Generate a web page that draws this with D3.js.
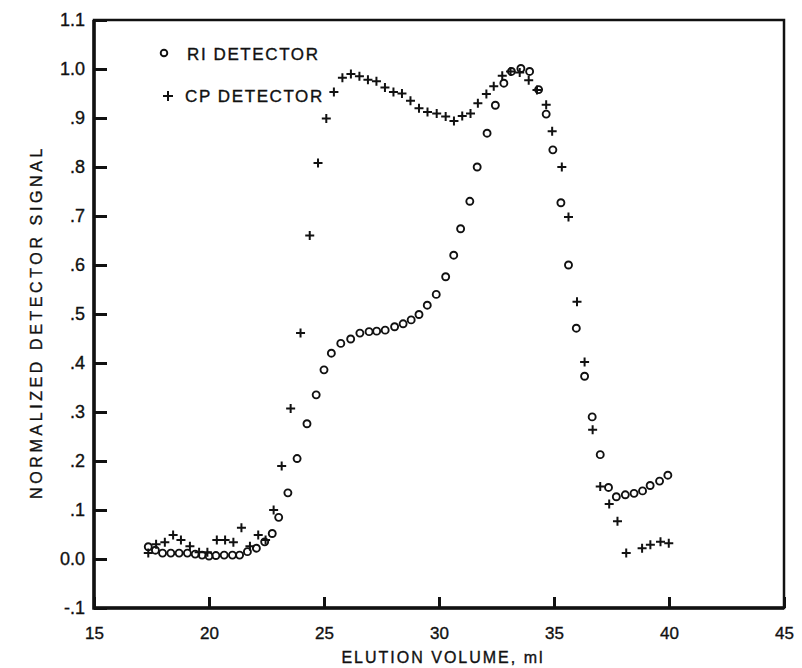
<!DOCTYPE html>
<html><head><meta charset="utf-8">
<script src="https://cdn.jsdelivr.net/npm/d3@7"></script>
<style>
body{margin:0;background:#fff;}
text{font-family:"Liberation Sans",Arial,Helvetica,sans-serif;fill:#111;stroke:#111;stroke-width:0.35px;}
</style></head>
<body><svg id="c" width="802" height="668"></svg>
<script>
// RI detector (circles)
const riX = [17.36,17.67,17.98,18.34,18.70,19.06,19.40,19.70,20.00,20.30,20.66,21.02,21.33,21.67,22.06,22.42,22.75,23.03,23.43,23.83,24.26,24.66,25.00,25.32,25.73,26.16,26.56,26.96,27.29,27.66,28.07,28.44,28.79,29.13,29.49,29.88,30.29,30.64,30.94,31.34,31.66,32.09,32.45,32.82,33.15,33.56,33.94,34.33,34.66,34.95,35.30,35.63,35.97,36.33,36.66,37.01,37.37,37.71,38.10,38.48,38.85,39.18,39.59,39.95];
const riY = [0.025,0.018,0.012,0.012,0.012,0.012,0.010,0.008,0.006,0.007,0.008,0.008,0.008,0.015,0.022,0.035,0.052,0.085,0.135,0.205,0.276,0.335,0.386,0.420,0.440,0.449,0.461,0.464,0.465,0.467,0.474,0.480,0.488,0.499,0.518,0.540,0.576,0.620,0.674,0.730,0.800,0.869,0.926,0.971,0.995,1.001,0.995,0.958,0.908,0.835,0.727,0.600,0.471,0.373,0.290,0.213,0.146,0.127,0.131,0.134,0.139,0.150,0.159,0.171];
// CP detector (crosses)
const cpX = [17.36,17.70,18.08,18.44,18.78,19.17,19.57,19.93,20.34,20.70,21.06,21.41,21.78,22.14,22.46,22.81,23.16,23.55,23.98,24.38,24.74,25.10,25.43,25.80,26.17,26.54,26.91,27.28,27.65,28.02,28.39,28.76,29.13,29.50,29.90,30.29,30.65,31.01,31.37,31.69,32.06,32.38,32.75,33.11,33.51,33.90,34.26,34.66,34.92,35.34,35.63,36.00,36.33,36.68,37.01,37.40,37.76,38.14,38.83,39.19,39.63,39.99];
const cpY = [0.012,0.030,0.034,0.049,0.039,0.026,0.014,0.014,0.039,0.039,0.034,0.064,0.026,0.049,0.039,0.100,0.190,0.307,0.461,0.660,0.808,0.899,0.953,0.982,0.990,0.985,0.978,0.975,0.962,0.953,0.950,0.935,0.920,0.912,0.909,0.903,0.894,0.904,0.909,0.930,0.949,0.965,0.986,0.995,0.993,0.977,0.957,0.927,0.873,0.800,0.698,0.525,0.402,0.264,0.148,0.112,0.077,0.012,0.022,0.029,0.035,0.032];
const xTicks = [15,20,25,30,35,40,45];
const yTicks = [-0.1,0,0.1,0.2,0.3,0.4,0.5,0.6,0.7,0.8,0.9,1.0,1.1];
const yTickLabels = ["-.1","0.0",".1",".2",".3",".4",".5",".6",".7",".8",".9","1.0","1.1"];
const legendLabels = ["RI DETECTOR","CP DETECTOR"];

const svg = d3.select("#c");
const x = d3.scaleLinear().domain([15,45]).range([94,784]);
const y = d3.scaleLinear().domain([-0.1,1.1]).range([608,20]);

// frame: thin top/right, heavy left/bottom
svg.append("rect").attr("x",x(15)).attr("y",y(1.1)).attr("width",x(45)-x(15)).attr("height",y(-0.1)-y(1.1))
  .attr("fill","none").attr("stroke","#111").attr("stroke-width",2.5);
svg.append("path").attr("d",`M${x(15)},${y(1.1)}V${y(-0.1)}H${x(45)}`)
  .attr("fill","none").attr("stroke","#111").attr("stroke-width",3.5);

// axes with inward ticks
const xa = svg.append("g").attr("transform",`translate(0,${y(-0.1)})`)
  .call(d3.axisBottom(x).tickValues(xTicks).tickSize(-11).tickPadding(19).tickFormat(d3.format("d")));
const ya = svg.append("g").attr("transform",`translate(${x(15)},0)`)
  .call(d3.axisLeft(y).tickValues(yTicks).tickSize(-13).tickPadding(9).tickFormat((d,i)=>yTickLabels[i]));
[xa,ya].forEach(g=>{
  g.select(".domain").remove();
  g.selectAll(".tick line").attr("stroke","#111").attr("stroke-width",3);
  g.selectAll(".tick text").attr("fill","#111")
   .style("font-family","'Liberation Sans',Arial,sans-serif");
});
xa.selectAll(".tick text").attr("font-size",17);
ya.selectAll(".tick text").attr("font-size",18);

// axis titles
svg.append("text").attr("x",443).attr("y",663).attr("text-anchor","middle")
  .attr("font-size",16).attr("letter-spacing",2).text("ELUTION VOLUME, ml");
svg.append("text").attr("transform","translate(42,322) rotate(-90)").attr("text-anchor","middle")
  .attr("font-size",16).attr("letter-spacing",3.6).text("NORMALIZED DETECTOR SIGNAL");

// crosses
const cross = (g,cx,cy,s)=>{
  g.append("path").attr("d",`M${cx-s},${cy}H${cx+s}M${cx},${cy-s}V${cy+s}`)
   .attr("stroke","#111").attr("stroke-width",2).attr("fill","none");
};
const cpG = svg.append("g");
cpX.forEach((v,i)=>cross(cpG,x(v),y(cpY[i]),4.5));

const riG = svg.append("g");
riG.selectAll("circle").data(riX).join("circle")
  .attr("cx",d=>x(d)).attr("cy",(d,i)=>y(riY[i])).attr("r",3.5)
  .attr("fill","none").attr("stroke","#111").attr("stroke-width",1.9);

// legend
const lg = svg.append("g");
lg.append("circle").attr("cx",164).attr("cy",53).attr("r",3.3).attr("fill","none").attr("stroke","#111").attr("stroke-width",1.9);
cross(lg,168,96,5);
lg.append("text").attr("x",187).attr("y",60).attr("font-size",17).attr("letter-spacing",1.6).text(legendLabels[0]);
lg.append("text").attr("x",185).attr("y",102).attr("font-size",17).attr("letter-spacing",1.6).text(legendLabels[1]);
</script></body></html>
